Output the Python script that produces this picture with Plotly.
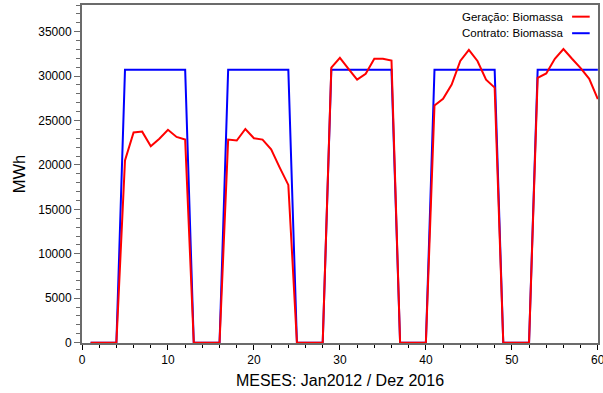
import plotly.graph_objects as go

months = list(range(1, 61))

geracao = [
    0, 0, 0, 0, 20500, 23650, 23750, 22100, 22950, 23950, 23150, 22850,
    0, 0, 0, 0, 22850, 22750, 24050, 23000, 22850, 21750, 19700, 17750,
    0, 0, 0, 0, 30950, 32050, 30800, 29600, 30250, 31950, 31950, 31750,
    0, 0, 0, 0, 26700, 27450, 29050, 31700, 32950, 31700, 29600, 28700,
    0, 0, 0, 0, 29800, 30300, 31950, 33050, 31950, 30900, 29700, 27400,
]

contrato = [
    0, 0, 0, 0] + [30700] * 8 + [
    0, 0, 0, 0] + [30700] * 8 + [
    0, 0, 0, 0] + [30700] * 8 + [
    0, 0, 0, 0] + [30700] * 8 + [
    0, 0, 0, 0] + [30700] * 8

x_ticks = [0, 10, 20, 30, 40, 50, 60]
y_ticks = [0, 5000, 10000, 15000, 20000, 25000, 30000, 35000]

names = ["Geração: Biomassa", "Contrato: Biomassa"]
colors = ["#ff0000", "#0000ff"]

fig = go.Figure()
fig.add_trace(go.Scatter(x=months, y=contrato, mode="lines", name=names[1],
                         line=dict(color=colors[1], width=2), showlegend=False))
fig.add_trace(go.Scatter(x=months, y=geracao, mode="lines", name=names[0],
                         line=dict(color=colors[0], width=2), showlegend=False))

# custom legend (text left of the line sample)
leg_y = [0.9655, 0.9165]
for i in range(2):
    fig.add_annotation(xref="paper", yref="paper", x=0.9382, y=leg_y[i],
                       text=names[i], showarrow=False, xanchor="right", yanchor="middle",
                       font=dict(size=11.5, color="#000000"))
    fig.add_shape(type="line", xref="paper", yref="paper",
                  x0=0.9498, x1=0.9839, y0=leg_y[i], y1=leg_y[i],
                  line=dict(color=colors[i], width=2))

# last x tick label (plotly hides it because it overflows the page edge)
fig.add_annotation(xref="x", yref="paper", x=x_ticks[-1], y=-0.05,
                   text=str(x_ticks[-1]), showarrow=False, xanchor="center", yanchor="middle",
                   font=dict(size=12, color="#000000"))

axis_color = "#6b6b6b"
fig.update_layout(
    width=603, height=393,
    margin=dict(l=82, r=3, t=4, b=50),
    paper_bgcolor="white", plot_bgcolor="white",
    font=dict(family="Liberation Sans, Arial, sans-serif", color="#000000", size=12),
)
fig.update_xaxes(
    range=[0, 60.02], tickmode="array", tickvals=x_ticks, ticktext=[str(v) for v in x_ticks],
    showgrid=False, zeroline=False,
    showline=True, linecolor=axis_color, linewidth=2, mirror=True,
    ticks="outside", ticklen=5, tickcolor="#000000", tickwidth=1,
    minor=dict(tickmode="linear", tick0=0, dtick=2, ticks="outside", ticklen=3,
               tickcolor="#000000", showgrid=False),
    tickfont=dict(size=12),
    title=dict(text="MESES: Jan2012 / Dez 2016", font=dict(size=16), standoff=8),
)
fig.update_yaxes(
    range=[-40, 38000], tickmode="array", tickvals=y_ticks, ticktext=[str(v) for v in y_ticks],
    showgrid=False, zeroline=False,
    showline=True, linecolor=axis_color, linewidth=2, mirror=True,
    ticks="outside", ticklen=6, tickcolor=axis_color, tickwidth=1,
    minor=dict(tickmode="linear", tick0=0, dtick=1000, ticks="outside", ticklen=4,
               tickcolor=axis_color, showgrid=False),
    tickfont=dict(size=12),
    title=dict(text="MWh", font=dict(size=16.5), standoff=8),
)

fig.write_html("out.html")
